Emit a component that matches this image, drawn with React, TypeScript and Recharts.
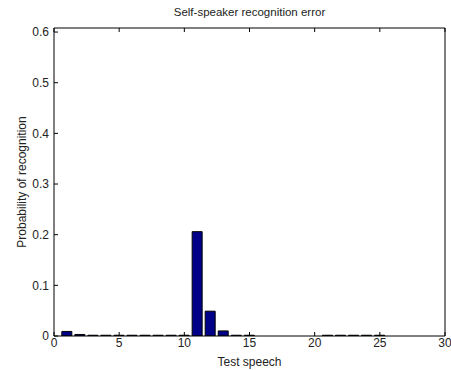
import { BarChart, Bar, XAxis, YAxis, Label } from 'recharts';

// test speech index, 1..25
const speechIds = [
  1, 2, 3, 4, 5, 6, 7, 8, 9, 10, 11, 12, 13, 14, 15, 16, 17, 18, 19, 20, 21, 22, 23, 24, 25,
];
const recognitionProb = [
  0.009, 0.003, 0.0015, 0.0015, 0.0015, 0.0015, 0.0015, 0.0015, 0.0015, 0.0015,
  0.206, 0.049, 0.01, 0.0015, 0.0015, 0, 0, 0, 0, 0,
  0.0015, 0.0015, 0.0015, 0.0015, 0.0015,
];
const xTicks = [0, 5, 10, 15, 20, 25, 30];
const yTicks = [0, 0.1, 0.2, 0.3, 0.4, 0.5, 0.6];

const data = speechIds.map((id, i) => ({ id, prob: recognitionProb[i] }));

const FONT = '"Liberation Sans", Arial, Helvetica, sans-serif';
const TEXT = '#222';
// negative size turns the tick marks inward, like a boxed matlab axes
const TICK_IN = -4;
const tickStyle = { fontSize: 12, fill: TEXT, fontFamily: FONT };
const noLabel = () => '';

export default function App() {
  return (
    <div style={{ position: 'absolute', left: 0, top: 0, width: 451, height: 370, background: '#fff' }}>
      <div
        style={{
          position: 'absolute',
          top: 6,
          left: 54,
          width: 391,
          textAlign: 'center',
          fontFamily: FONT,
          fontSize: 11.5,
          color: TEXT,
        }}
      >
        Self-speaker recognition error
      </div>
      <BarChart
        width={451}
        height={370}
        data={data}
        margin={{ top: 27, right: 0, bottom: 0, left: 0 }}
        barCategoryGap="10%"
      >
        <XAxis
          dataKey="id"
          type="number"
          domain={[0, 30]}
          ticks={xTicks}
          allowDataOverflow
          height={34}
          tickSize={TICK_IN}
          tickMargin={6}
          tickLine={{ stroke: '#000' }}
          axisLine={{ stroke: '#000' }}
          tick={tickStyle}
          interval={0}
        >
          <Label
            value="Test speech"
            position="insideBottom"
            offset={4}
            fontSize={12}
            fill={TEXT}
            fontFamily={FONT}
          />
        </XAxis>
        <XAxis
          xAxisId="top"
          dataKey="id"
          type="number"
          orientation="top"
          domain={[0, 30]}
          ticks={xTicks}
          height={1}
          tickSize={TICK_IN}
          tickLine={{ stroke: '#000' }}
          axisLine={{ stroke: '#000' }}
          tickFormatter={noLabel}
          interval={0}
        />
        <YAxis
          type="number"
          domain={[0, 0.608]}
          ticks={yTicks}
          allowDataOverflow
          width={54}
          tickSize={TICK_IN}
          tickMargin={9}
          tickLine={{ stroke: '#000' }}
          axisLine={{ stroke: '#000' }}
          tick={tickStyle}
          interval={0}
        >
          <Label
            value="Probability of recognition"
            angle={-90}
            position="insideLeft"
            offset={22}
            style={{ textAnchor: 'middle' }}
            fontSize={12}
            fill={TEXT}
            fontFamily={FONT}
          />
        </YAxis>
        <YAxis
          yAxisId="right"
          orientation="right"
          type="number"
          domain={[0, 0.608]}
          ticks={yTicks}
          width={6}
          tickSize={TICK_IN}
          tickLine={{ stroke: '#000' }}
          axisLine={{ stroke: '#000' }}
          tickFormatter={noLabel}
          interval={0}
        />
        <Bar dataKey="prob" fill="#000088" stroke="#000" strokeWidth={1} isAnimationActive={false} />
      </BarChart>
    </div>
  );
}
